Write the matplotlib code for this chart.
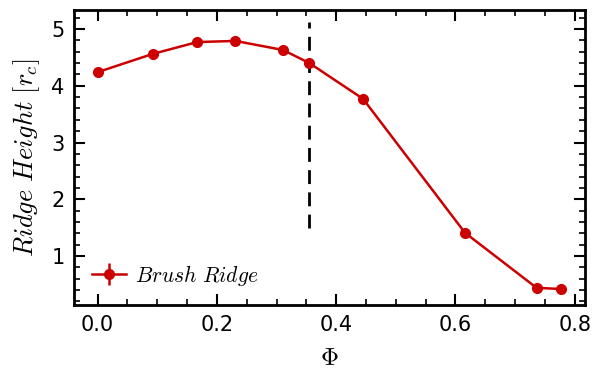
import matplotlib
matplotlib.use('Agg')
import matplotlib.pyplot as plt
import numpy as np

plt.rcParams['mathtext.fontset'] = 'cm'

# data
phi = [0.0, 0.092, 0.167, 0.231, 0.311, 0.355, 0.445, 0.616, 0.736, 0.777]
height = [4.24, 4.56, 4.77, 4.79, 4.63, 4.40, 3.77, 1.41, 0.44, 0.42]
height_err = [0.02, 0.02, 0.02, 0.02, 0.02, 0.02, 0.02, 0.02, 0.02, 0.02]
phi_crit = 0.355
vline_range = (1.5, 5.12)

fig, ax = plt.subplots(figsize=(5.95, 3.7), dpi=100)

ax.errorbar(phi, height, yerr=height_err, color='#cc0000', marker='o',
            markersize=7, linewidth=1.8, elinewidth=1.8, capsize=0,
            label=r'$Brush\ Ridge$')
ax.plot([phi_crit, phi_crit], vline_range, 'k--', linewidth=2, dashes=(5, 3))

ax.set_xlim(-0.039, 0.817)
ax.set_ylim(0.14, 5.335)
ax.set_xticks([0.0, 0.2, 0.4, 0.6, 0.8])
ax.set_yticks([1, 2, 3, 4, 5])
ax.xaxis.set_minor_locator(matplotlib.ticker.AutoMinorLocator(4))
ax.yaxis.set_minor_locator(matplotlib.ticker.AutoMinorLocator(5))
ax.tick_params(which='both', direction='in', top=True, right=True, labelsize=15)
ax.tick_params(which='major', length=8, width=1.5, pad=7)
ax.tick_params(which='minor', length=4, width=1.2)
for s in ax.spines.values():
    s.set_linewidth(2)

ax.set_xlabel(r'$\Phi$', fontsize=18, labelpad=8)
ax.set_ylabel(r'$Ridge\ Height\ [r_c]$', fontsize=19, labelpad=7)
ax.legend(loc='lower left', frameon=False, fontsize=15.5, handlelength=1.6,
          handletextpad=0.4, borderaxespad=0.4)

plt.subplots_adjust(left=0.125, right=0.983, top=0.973, bottom=0.176)
fig.savefig('out.png', dpi=100)
